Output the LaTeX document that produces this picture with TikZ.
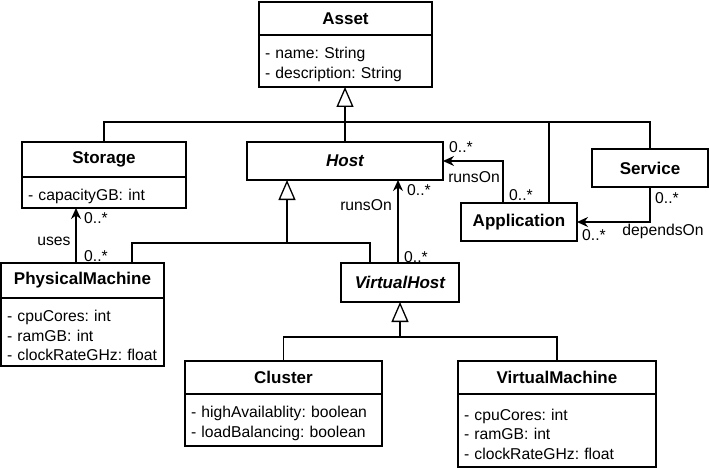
\documentclass[tikz,border=0pt]{standalone}
\usepackage{fontspec}
\setmainfont{Liberation Sans}
\usetikzlibrary{positioning,calc,arrows.meta}
\definecolor{ink}{HTML}{000000}
\newcommand\attrfont{\fontsize{15.7}{19.5}\selectfont\frenchspacing}
\newcommand\namefont{\fontsize{17}{20}\selectfont\bfseries}
\tikzset{
  cls/.style={draw=ink, line width=1.3pt, fill=white, inner sep=0pt, outer sep=0pt, anchor=north west, font=\namefont},
  abscls/.style={cls, font=\namefont\itshape},
  attrs/.style={draw=ink, line width=1.3pt, fill=white, inner xsep=6pt, inner ysep=0pt, outer sep=0pt, text height=18.5pt, align=left, font=\attrfont},
  link/.style={draw=ink, line width=1.3pt},
  gen/.style={link, -{Triangle[fill=white, length=20pt, width=17pt]}},
  assoc/.style={link, -{Stealth[length=11pt, width=10pt]}},
  mult/.style={anchor=base, inner sep=0pt, font=\attrfont}
}

\begin{document}
\begin{tikzpicture}[x=1pt, y=-1pt]
  \useasboundingbox (0,0) rectangle (709,468);

  % classes
  \node[cls, minimum width=173pt, minimum height=33pt] (asset) at (259,2) {Asset};
  \node[attrs, below=0pt of asset, text width=161pt, minimum height=52pt] (assetb) {- name: String\\- description: String};

  \node[cls, minimum width=164pt, minimum height=35pt] (storage) at (22,142) {Storage};
  \node[attrs, below=0pt of storage, text width=152pt, minimum height=31pt] (storageb) {- capacityGB: int};

  \node[abscls, minimum width=196pt, minimum height=38pt] (host) at (247,142) {Host};
  \node[cls, minimum width=116pt, minimum height=38pt] (service) at (592,149) {Service};
  \node[cls, minimum width=116pt, minimum height=38pt] (application) at (461,203) {Application};

  \node[cls, minimum width=163pt, minimum height=35pt] (phys) at (1,263) {PhysicalMachine};
  \node[attrs, below=0pt of phys, text width=151pt, minimum height=68pt] (physb) {- cpuCores: int\\- ramGB: int\\- clockRateGHz:~float};

  \node[abscls, minimum width=118pt, minimum height=39pt] (vhost) at (341,263) {VirtualHost};

  \node[cls, minimum width=197pt, minimum height=33pt] (cluster) at (185,361) {Cluster};
  \node[attrs, below=0pt of cluster, text width=185pt, minimum height=52pt] (clusterb) {- highAvailablity: boolean\\- loadBalancing: boolean};

  \node[cls, minimum width=198pt, minimum height=33pt] (vm) at (458,361) {VirtualMachine};
  \node[attrs, below=0pt of vm, text width=186pt, minimum height=73pt] (vmb) {- cpuCores: int\\- ramGB: int\\- clockRateGHz:~float};

  % generalization to Asset
  \coordinate (aj) at ($(host.north)+(0,-20)$);
  \coordinate (appup) at ($(application.north)+(30,0)$);
  \draw[link] (storage.north) |- (aj) -| (service.north);
  \draw[link] (appup) -- (appup |- aj);
  \draw[link] (host.north) -- (aj);
  \draw[gen] (aj) -- (aj |- assetb.south);

  % generalization to Host
  \coordinate (hj) at ($(host.south)+(-58,63)$);
  \coordinate (pmup) at ($(phys.north)+(49.5,0)$);
  \coordinate (vhup) at ($(vhost.north)+(-30,0)$);
  \draw[link] (pmup) |- (hj) -| (vhup);
  \draw[gen] (hj) -- (hj |- host.south);

  % generalization to VirtualHost
  \coordinate (vj) at ($(vhost.south)+(0,35)$);
  \draw[link] (cluster.north) |- (vj) -| (vm.north);
  \draw[gen] (vj) -- (vhost.south);

  % associations
  \coordinate (pmuse) at ($(phys.north)+(-6.5,0)$);
  \draw[assoc] (pmuse) -- (pmuse |- storageb.south);
  \coordinate (vhrun) at ($(vhost.north)+(-2,0)$);
  \draw[assoc] (vhrun) -- (vhrun |- host.south);
  \coordinate (apprun) at ($(application.north)+(-16,0)$);
  \draw[assoc] (apprun) |- (host.east);
  \draw[assoc] (service.south) |- (application.east);

  % labels
  \node[mult] (m1) at (96,223) {0..*};
  \node[mult] (uses) at (54,245) {uses};
  \node[mult] (m2) at (96,261) {0..*};
  \node[mult] (m3) at (419,195) {0..*};
  \node[mult] (runs1) at (366,210) {runsOn};
  \node[mult] (m4) at (416,262) {0..*};
  \node[mult] (m5) at (461,153) {0..*};
  \node[mult] (runs2) at (474,182) {runsOn};
  \node[mult] (m6) at (521,200) {0..*};
  \node[mult] (m7) at (667,203) {0..*};
  \node[mult] (m8) at (594,240) {0..*};
  \node[mult] (deps) at (663,235) {dependsOn};
\end{tikzpicture}
\end{document}
